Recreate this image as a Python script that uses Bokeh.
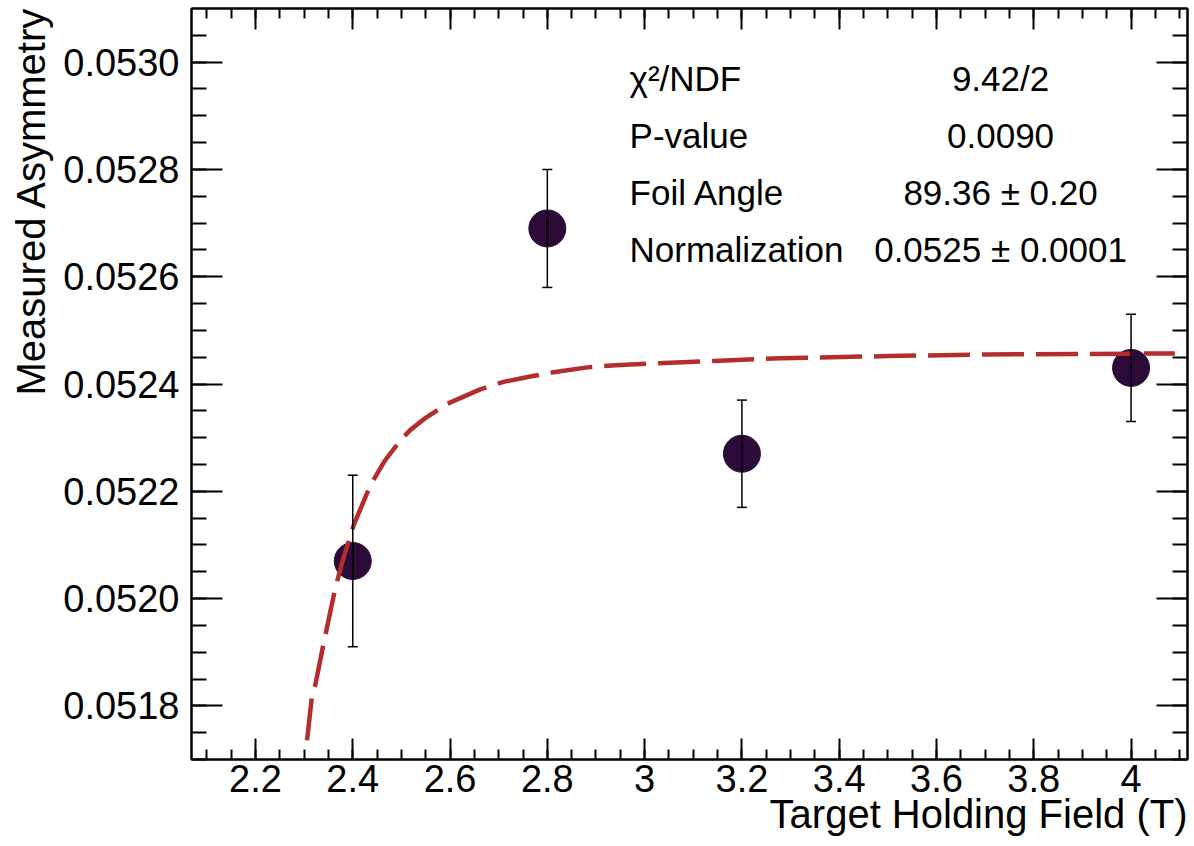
from bokeh.plotting import figure
from bokeh.models import (LinearAxis, SingleIntervalTicker, NumeralTickFormatter,
                          CustomJSTickFormatter, Whisker, TeeHead, ColumnDataSource,
                          Label, Range1d, Title)
from bokeh.embed import file_html
from bokeh.resources import INLINE

# ---------------- data ----------------
field = [2.4, 2.8, 3.2, 4.0]
asym = [0.05207, 0.05269, 0.05227, 0.05243]
asym_err = [0.00016, 0.00011, 0.00010, 0.00010]

fit_x = [2.306, 2.316, 2.323, 2.340, 2.364, 2.380, 2.402, 2.436, 2.466, 2.498,
         2.518, 2.550, 2.594, 2.662, 2.710, 2.765, 2.820, 2.882, 2.940, 3.005,
         3.142, 3.279, 3.500, 3.690, 3.900, 4.090]
fit_y = [0.051736, 0.051817, 0.051839, 0.051916, 0.052019, 0.052073, 0.052137,
         0.052211, 0.052257, 0.052295, 0.052314, 0.052337, 0.052363, 0.052390,
         0.052404, 0.052414, 0.052423, 0.052431, 0.052435, 0.052438, 0.052443,
         0.052448, 0.052452, 0.052455, 0.052456, 0.052457]

stat_names = ["χ²/NDF", "P-value", "Foil Angle", "Normalization"]
stat_values = ["9.42/2", "0.0090", "89.36 ± 0.20", "0.0525 ± 0.0001"]

x_title = "Target Holding Field (T)"
y_title = "Measured Asymmetry"

FONT = "Liberation Sans"
X0, X1 = 2.0685, 4.116
Y0, Y1 = 0.0517, 0.0531

p = figure(width=1194, height=846, x_range=Range1d(X0, X1), y_range=Range1d(Y0, Y1),
           output_backend="svg", toolbar_location=None,
           min_border_left=191, min_border_right=7, min_border_top=8, min_border_bottom=87,
           x_axis_location=None, y_axis_location=None)
p.xgrid.visible = False
p.ygrid.visible = False
p.outline_line_color = "black"
p.outline_line_width = 2
p.background_fill_color = "white"
p.border_fill_color = "white"

xticker = SingleIntervalTicker(interval=0.2, num_minor_ticks=4)
yticker = SingleIntervalTicker(interval=0.0002, num_minor_ticks=4)
blank = CustomJSTickFormatter(code="return ''")


def style(ax, major_in, minor_in, show_labels, standoff):
    ax.axis_line_color = "black"
    ax.axis_line_width = 2
    ax.major_tick_line_color = "black"
    ax.minor_tick_line_color = "black"
    ax.major_tick_line_width = 2
    ax.minor_tick_line_width = 2
    ax.major_tick_in = major_in
    ax.major_tick_out = 0
    ax.minor_tick_in = minor_in
    ax.minor_tick_out = 0
    ax.major_label_text_font = FONT
    ax.major_label_text_color = "black"
    if show_labels:
        ax.major_label_text_font_size = "38px"
        ax.major_label_standoff = standoff
    else:
        ax.major_label_text_font_size = "1px"
        ax.major_label_standoff = 0


bottom = LinearAxis(ticker=xticker, formatter=NumeralTickFormatter(format="0.[0]"))
style(bottom, 21, 10, True, 5)
p.add_layout(bottom, "below")

top = LinearAxis(ticker=xticker, formatter=blank)
style(top, 21, 10, False, 0)
p.add_layout(top, "above")

left = LinearAxis(ticker=yticker, formatter=NumeralTickFormatter(format="0.0000"))
style(left, 31, 15, True, 12)
p.add_layout(left, "left")

right = LinearAxis(ticker=yticker, formatter=blank)
style(right, 31, 15, False, 0)
p.add_layout(right, "right")

# axis titles, ROOT style: aligned with the far end of each axis
p.add_layout(Title(text=x_title, align="right", vertical_align="top", offset=0,
                   standoff=-6, text_font=FONT, text_font_size="40px",
                   text_font_style="normal", text_color="black"), "below")
p.add_layout(Title(text=y_title, align="right", vertical_align="middle", offset=-2,
                   standoff=14, text_font=FONT, text_font_size="40px",
                   text_font_style="normal", text_color="black"), "left")

src = ColumnDataSource(dict(
    x=field, y=asym,
    upper=[a + e for a, e in zip(asym, asym_err)],
    lower=[a - e for a, e in zip(asym, asym_err)],
))

p.scatter("x", "y", source=src, size=37, fill_color="#2d0b39", line_color="#2d0b39")
p.line(fit_x, fit_y, line_color="#b32d2e", line_width=4.5, line_dash="42 12")

wh = Whisker(source=src, base="x", upper="upper", lower="lower",
             line_color="black", line_width=1.5,
             upper_head=TeeHead(size=10, line_color="black", line_width=1.5),
             lower_head=TeeHead(size=10, line_color="black", line_width=1.5))
wh.level = "overlay"
p.add_layout(wh)

# stats box text
row_y = [0.052970, 0.052863, 0.052757, 0.052650]
for name, val, ry in zip(stat_names, stat_values, row_y):
    p.add_layout(Label(x=2.969, y=ry, text=name, text_font=FONT, text_font_size="35px",
                       text_align="left", text_baseline="middle", text_color="black"))
    p.add_layout(Label(x=3.7317, y=ry, text=val, text_font=FONT, text_font_size="35px",
                       text_align="center", text_baseline="middle", text_color="black"))

open("out.html", "w").write(file_html(p, INLINE))
